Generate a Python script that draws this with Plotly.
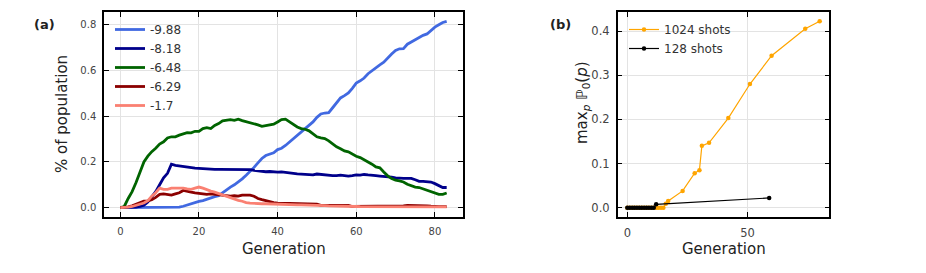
import plotly.graph_objects as go

# ---------------- data: panel (a) ----------------
labels_a = ["-9.88", "-8.18", "-6.48", "-6.29", "-1.7"]
colors_a = ["#4169E1", "#00008B", "#006400", "#8B0000", "#FA8072"]

s_988 = [0]*15 + [0.002, 0.006, 0.012, 0.018, 0.022, 0.027, 0.031, 0.037, 0.044, 0.048,
         0.052, 0.066, 0.08, 0.09, 0.10, 0.112, 0.126, 0.142, 0.158, 0.176,
         0.196, 0.215, 0.228, 0.234, 0.24, 0.254, 0.26, 0.272, 0.287, 0.302,
         0.318, 0.333, 0.347, 0.36, 0.375, 0.395, 0.41, 0.414, 0.416, 0.437,
         0.458, 0.48, 0.49, 0.502, 0.522, 0.545, 0.555, 0.567, 0.586, 0.60,
         0.614, 0.625, 0.636, 0.655, 0.672, 0.688, 0.695, 0.696, 0.715, 0.725,
         0.735, 0.745, 0.754, 0.76, 0.775, 0.79, 0.80, 0.81, 0.815]
s_818 = [0, 0, 0, 0, 0.002, 0.005, 0.01, 0.025, 0.045, 0.07, 0.10, 0.13, 0.15, 0.19, 0.185,
         0.182, 0.18, 0.178, 0.175, 0.173, 0.172, 0.17, 0.168,
         0.167, 0.167, 0.167, 0.167, 0.167, 0.167, 0.167, 0.168, 0.166, 0.166, 0.166,
         0.163, 0.16, 0.157, 0.157, 0.158, 0.156, 0.155, 0.156, 0.153, 0.15, 0.15,
         0.148, 0.147, 0.145, 0.143, 0.143, 0.147, 0.145, 0.142, 0.14, 0.14, 0.14,
         0.142, 0.14, 0.138, 0.14, 0.143, 0.142, 0.145, 0.143, 0.14, 0.14, 0.138,
         0.137, 0.135, 0.133, 0.13, 0.128, 0.128, 0.128, 0.128, 0.122, 0.115, 0.115,
         0.115, 0.112, 0.105, 0.097, 0.088, 0.088]
s_648 = [0, 0.005, 0.04, 0.07, 0.11, 0.16, 0.20, 0.225, 0.245, 0.26, 0.278, 0.288, 0.305,
         0.31, 0.31, 0.317, 0.324, 0.328, 0.327, 0.334, 0.334, 0.346, 0.35, 0.346, 0.36,
         0.368, 0.38, 0.384, 0.385, 0.382, 0.387, 0.381, 0.377, 0.371, 0.368, 0.362,
         0.356, 0.36, 0.364, 0.365, 0.375, 0.385, 0.387, 0.375, 0.365, 0.353, 0.346,
         0.343, 0.336, 0.324, 0.31, 0.305, 0.302, 0.292, 0.28, 0.266, 0.258, 0.248,
         0.244, 0.234, 0.225, 0.219, 0.21, 0.20, 0.19, 0.178, 0.174, 0.156, 0.139,
         0.127, 0.12, 0.117, 0.112, 0.102, 0.095, 0.09, 0.088, 0.082, 0.076, 0.069,
         0.061, 0.058, 0.058, 0.064]
s_629 = [0, 0, 0.003, 0.008, 0.015, 0.022, 0.028, 0.03, 0.035, 0.045, 0.058, 0.06, 0.058,
         0.055, 0.06, 0.065, 0.075, 0.07, 0.068, 0.065, 0.062, 0.06, 0.058, 0.06, 0.058,
         0.055, 0.055, 0.052, 0.05, 0.052, 0.05, 0.055, 0.055, 0.055, 0.05, 0.04, 0.035,
         0.03, 0.028, 0.022, 0.02, 0.018, 0.018, 0.018, 0.018, 0.015, 0.015, 0.015,
         0.015, 0.015, 0.015, 0.01, 0.01, 0.01, 0.01, 0.01, 0.012, 0.013, 0.01] + \
        [0.005]*12 + [0.006, 0.008] + [0.01]*5 + [0.008, 0.006] + [0.004]*4
s_17 = [0, 0, 0.002, 0.005, 0.01, 0.015, 0.02, 0.03, 0.05, 0.065, 0.085, 0.08, 0.08, 0.085,
        0.085, 0.088, 0.085, 0.082, 0.08, 0.085, 0.09, 0.085, 0.078, 0.072, 0.068, 0.062,
        0.055, 0.048, 0.042, 0.038, 0.032, 0.028, 0.022, 0.02, 0.018, 0.018, 0.017, 0.017,
        0.016, 0.016, 0.015, 0.014, 0.014, 0.013, 0.013, 0.012, 0.012, 0.012, 0.011,
        0.011, 0.01, 0.009, 0.009, 0.008, 0.008, 0.008, 0.007, 0.007, 0.006, 0.006,
        0.005] + [0.004]*10 + [0.003]*13
series_a = [s_988, s_818, s_648, s_629, s_17]

# ---------------- data: panel (b) ----------------
gen_1024 = [0, 1, 2, 3, 4, 5, 6, 7, 8, 9, 10, 11, 12, 13, 14, 15, 16, 17, 23, 28, 30, 31,
            34, 42, 51, 60, 74, 80]
val_1024 = [0]*16 + [0.009, 0.015, 0.038, 0.078, 0.085, 0.14, 0.147, 0.203, 0.28, 0.344,
                     0.405, 0.422]
gen_128 = [0, 1, 2, 3, 4, 5, 6, 7, 8, 9, 10, 11, 12, 59]
val_128 = [0]*12 + [0.0075, 0.022]

W, H = 926, 273
FONT = "DejaVu Sans"

def px(x):
    return x / W

def py(y):
    return 1 - y / H

fig = go.Figure()

for lab, col, s in zip(labels_a, colors_a, series_a):
    fig.add_trace(go.Scatter(x=list(range(len(s))), y=s, mode="lines", name=lab,
                             line=dict(color=col, width=2.8), xaxis="x", yaxis="y",
                             legend="legend"))

fig.add_trace(go.Scatter(x=gen_1024, y=val_1024, mode="lines+markers", name="1024 shots",
                         line=dict(color="#FFA500", width=1.2),
                         marker=dict(color="#FFA500", size=4.5),
                         xaxis="x2", yaxis="y2", legend="legend2"))
fig.add_trace(go.Scatter(x=gen_128, y=val_128, mode="lines+markers", name="128 shots",
                         line=dict(color="black", width=1.2),
                         marker=dict(color="black", size=4.5),
                         xaxis="x2", yaxis="y2", legend="legend2"))

ax_common = dict(showline=True, linecolor="black", linewidth=1.5, mirror="allticks",
                 ticks="inside", ticklen=5, tickwidth=1.3, tickcolor="black",
                 showgrid=True, gridcolor="#e3e3e3", gridwidth=0.8, zeroline=False,
                 ticklabelstandoff=4)

ydom = [py(217), py(12)]

fig.update_layout(
    width=W, height=H, margin=dict(l=0, r=0, t=0, b=0),
    paper_bgcolor="white", plot_bgcolor="white",
    font=dict(family=FONT, color="#333333"),
    showlegend=True,
    xaxis=dict(domain=[px(104), px(463)], range=[-4.15, 87.15], tickvals=[0, 20, 40, 60, 80],
               tickfont=dict(size=10, color="#444444"), anchor="y", **ax_common),
    yaxis=dict(domain=ydom, range=[-0.041, 0.856], tickvals=[0, 0.2, 0.4, 0.6, 0.8],
               tickformat=".1f", tickfont=dict(size=10, color="#444444"), anchor="x",
               **ax_common),
    xaxis2=dict(domain=[px(617.7), px(829.3)], range=[-4.0, 84.0], tickvals=[0, 50],
                tickfont=dict(size=11.5, color="#444444"), anchor="y2", **ax_common),
    yaxis2=dict(domain=ydom, range=[-0.0211, 0.4431], tickvals=[0, 0.1, 0.2, 0.3, 0.4],
                tickformat=".1f", tickfont=dict(size=11.5, color="#444444"), anchor="x2",
                **ax_common),
    legend=dict(x=px(110), y=py(15), xanchor="left", yanchor="top",
                bgcolor="rgba(0,0,0,0)", font=dict(size=12, color="#333333"),
                tracegroupgap=0, itemwidth=30),
    legend2=dict(x=px(624), y=py(15), xanchor="left", yanchor="top",
                 bgcolor="rgba(0,0,0,0)", font=dict(size=12, color="#333333"),
                 tracegroupgap=0, itemwidth=30),
)

ann = [
    dict(text="<b>(a)</b>", x=px(44), y=py(24), font=dict(size=13, color="#222222")),
    dict(text="<b>(b)</b>", x=px(560), y=py(24), font=dict(size=13, color="#222222")),
    dict(text="Generation", x=px(283.5), y=py(249), font=dict(size=15, color="#222222")),
    dict(text="Generation", x=px(724), y=py(249), font=dict(size=15, color="#222222")),
    dict(text="% of population", x=px(62), y=py(114), textangle=-90,
         font=dict(size=15, color="#222222")),
    dict(text="max<sub><i>p</i></sub> ℙ<sub>0</sub>(<i>p</i>)", x=px(582), y=py(103),
         textangle=-90, font=dict(size=15, color="#222222")),
]
for a in ann:
    fig.add_annotation(xref="paper", yref="paper", showarrow=False,
                       xanchor="center", yanchor="middle", **a)

fig.write_html("out.html", config={"displayModeBar": False},
               post_script="document.body.style.margin='0';document.body.style.overflow='hidden';")
